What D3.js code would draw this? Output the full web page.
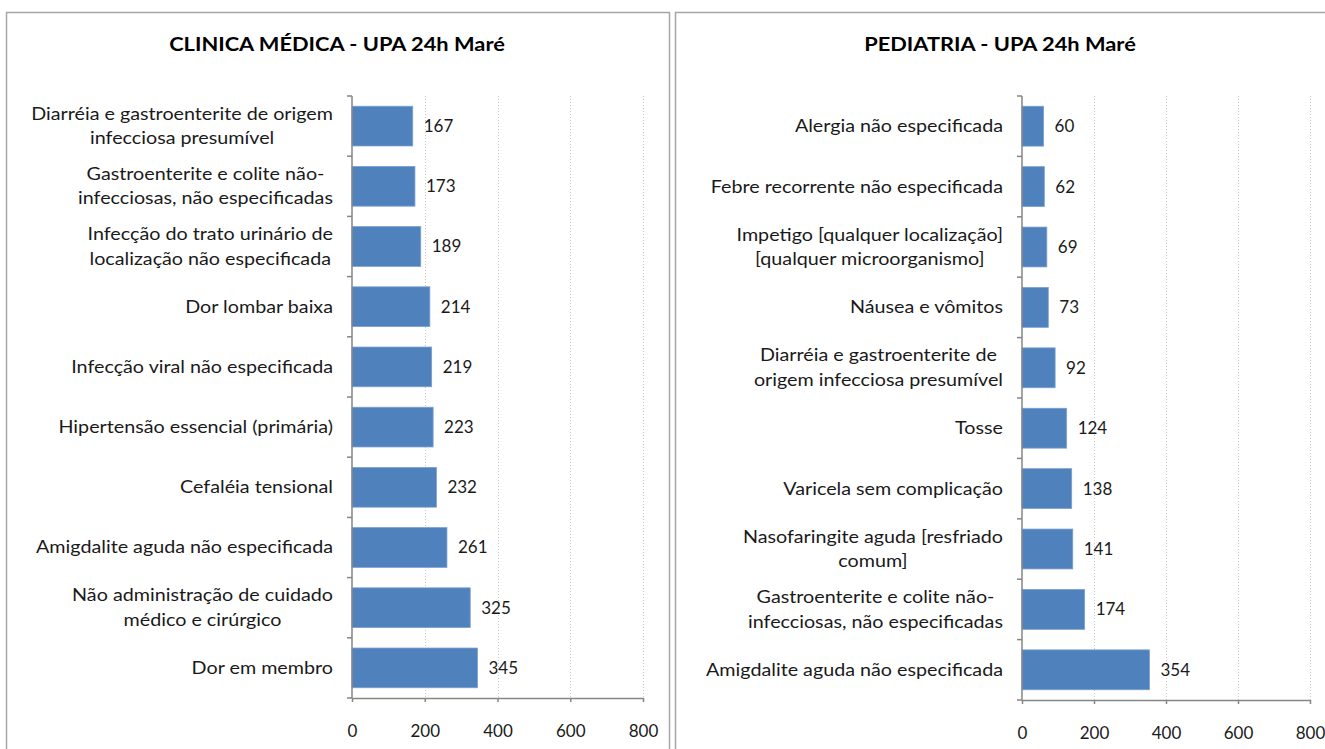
<!DOCTYPE html>
<html>
<head>
<meta charset="utf-8">
<script src="https://cdn.jsdelivr.net/npm/d3@7"></script>
<style>
  body { margin: 0; background: #fff; }
  text { font-family: Lato, "Open Sans", sans-serif; fill: #1a1a1a; }
</style>
</head>
<body>
<svg id="vis"></svg>
<script>
const WIDTH = 1325;
const HEIGHT = 749;
const BAR_COLOR = "#4F81BD";
const AXIS_COLOR = "#868686";
const GRID_COLOR = "#c8c8c8";
const FONT_SIZE = 17;
const LABEL_STRETCH = 1.16;   // the picture's text is wider than it is tall
const TITLE_STRETCH = 1.12;

// data, top to bottom as in the picture ("\n" marks the label wrap)
const clinicaTitle = "CLINICA MÉDICA - UPA 24h Maré";
const clinicaCategories = [
    "Diarréia e gastroenterite de origem\ninfecciosa presumível",
    "Gastroenterite e colite não-\ninfecciosas, não especificadas",
    "Infecção do trato urinário de\nlocalização não especificada",
    "Dor lombar baixa",
    "Infecção viral não especificada",
    "Hipertensão essencial (primária)",
    "Cefaléia tensional",
    "Amigdalite aguda não especificada",
    "Não administração de cuidado\nmédico e cirúrgico",
    "Dor em membro"
];
const clinicaValues = [167, 173, 189, 214, 219, 223, 232, 261, 325, 345];

const pediatriaTitle = "PEDIATRIA - UPA 24h Maré";
const pediatriaCategories = [
    "Alergia não especificada",
    "Febre recorrente não especificada",
    "Impetigo [qualquer localização]\n[qualquer microorganismo]",
    "Náusea e vômitos",
    "Diarréia e gastroenterite de\norigem infecciosa presumível",
    "Tosse",
    "Varicela sem complicação",
    "Nasofaringite aguda [resfriado\ncomum]",
    "Gastroenterite e colite não-\ninfecciosas, não especificadas",
    "Amigdalite aguda não especificada"
];
const pediatriaValues = [60, 62, 69, 73, 92, 124, 138, 141, 174, 354];

const xTicks = [0, 200, 400, 600, 800];

const svg = d3.select("#vis")
    .attr("width", WIDTH)
    .attr("height", HEIGHT);

function drawPanel(opts) {
    const g = svg.append("g");

    // chart frame
    g.append("rect")
        .attr("x", opts.frame[0] + 0.5)
        .attr("y", opts.frame[1] + 0.5)
        .attr("width", opts.frame[2])
        .attr("height", opts.frame[3])
        .attr("fill", "#fff")
        .attr("stroke", "#a6a6a6")
        .attr("stroke-width", 1.5);

    g.append("text")
        .attr("transform", "translate(" + opts.titleX + ",51) scale(" + TITLE_STRETCH + ",1)")
        .attr("text-anchor", "middle")
        .style("font-size", "19.5px")
        .style("font-weight", "bold")
        .style("fill", "#000")
        .text(opts.title);

    const x = d3.scaleLinear()
        .domain([0, 800])
        .range([opts.left, opts.right]);
    const y = d3.scaleBand()
        .domain(opts.categories)
        .range([opts.top, opts.bottom])
        .paddingInner(0.34)
        .paddingOuter(0.17);

    // dotted vertical gridlines
    g.selectAll(".grid").data(xTicks.slice(1)).join("line")
        .attr("class", "grid")
        .attr("x1", d => Math.round(x(d)) + 0.5)
        .attr("x2", d => Math.round(x(d)) + 0.5)
        .attr("y1", opts.top)
        .attr("y2", opts.bottom)
        .attr("stroke", GRID_COLOR)
        .attr("stroke-dasharray", "1,2");

    // bars
    g.selectAll(".bar").data(opts.values).join("rect")
        .attr("class", "bar")
        .attr("x", x(0))
        .attr("y", (d, i) => y(opts.categories[i]))
        .attr("width", d => x(d) - x(0))
        .attr("height", y.bandwidth())
        .attr("fill", BAR_COLOR)
        .attr("stroke", "#7a9fcf")
        .attr("stroke-width", 0.8);

    // value labels
    g.selectAll(".val").data(opts.values).join("text")
        .attr("class", "val")
        .attr("x", d => x(d) + 11)
        .attr("y", (d, i) => y(opts.categories[i]) + y.bandwidth() / 2)
        .attr("dy", "0.35em")
        .style("font-size", FONT_SIZE + "px")
        .text(d => d);

    // x axis
    const xAxis = g.append("g")
        .attr("transform", "translate(0," + opts.bottom + ")")
        .call(d3.axisBottom(x).tickValues(xTicks).tickSize(4).tickSizeOuter(0).tickPadding(23));
    xAxis.select(".domain").attr("stroke", AXIS_COLOR).attr("stroke-width", 1.5);
    xAxis.selectAll(".tick line").attr("stroke", AXIS_COLOR).attr("stroke-width", 1.5);
    xAxis.selectAll(".tick text")
        .attr("font-family", null)
        .attr("font-size", null)
        .attr("fill", null)
        .style("font-size", FONT_SIZE + "px");

    // y axis line with ticks between categories
    g.append("line")
        .attr("x1", x(0)).attr("x2", x(0))
        .attr("y1", opts.top).attr("y2", opts.bottom)
        .attr("stroke", AXIS_COLOR).attr("stroke-width", 1.5);
    const boundaries = d3.range(opts.categories.length + 1).map(i => opts.top + i * (opts.bottom - opts.top) / opts.categories.length);
    g.selectAll(".ytick").data(boundaries).join("line")
        .attr("class", "ytick")
        .attr("x1", x(0) - 5).attr("x2", x(0))
        .attr("y1", d => d).attr("y2", d => d)
        .attr("stroke", AXIS_COLOR).attr("stroke-width", 1.5);

    // category labels: block right-aligned, lines centred inside the block
    const labelRight = x(0) - 19;
    const lineGap = 24.5;
    opts.categories.forEach(cat => {
        const lines = cat.split("\n");
        const cy = y(cat) + y.bandwidth() / 2;
        const t = g.append("text")
            .attr("text-anchor", "middle")
            .style("font-size", FONT_SIZE + "px");
        lines.forEach((ln, j) => {
            t.append("tspan")
                .attr("x", 0)
                .attr("y", cy + (j - (lines.length - 1) / 2) * lineGap)
                .attr("dy", "0.35em")
                .text(ln);
        });
        const widths = t.selectAll("tspan").nodes().map(n => n.getComputedTextLength());
        const blockW = d3.max(widths) * LABEL_STRETCH;
        t.attr("transform", "translate(" + (labelRight - blockW / 2) + ",0) scale(" + LABEL_STRETCH + ",1)");
    });
}

drawPanel({
    frame: [6, 12, 663, 760],
    title: clinicaTitle,
    titleX: 337,
    categories: clinicaCategories,
    values: clinicaValues,
    left: 352, right: 643, top: 96, bottom: 698
});

drawPanel({
    frame: [675, 12, 700, 760],
    title: pediatriaTitle,
    titleX: 1000,
    categories: pediatriaCategories,
    values: pediatriaValues,
    left: 1022, right: 1310, top: 96, bottom: 700
});
</script>
</body>
</html>
